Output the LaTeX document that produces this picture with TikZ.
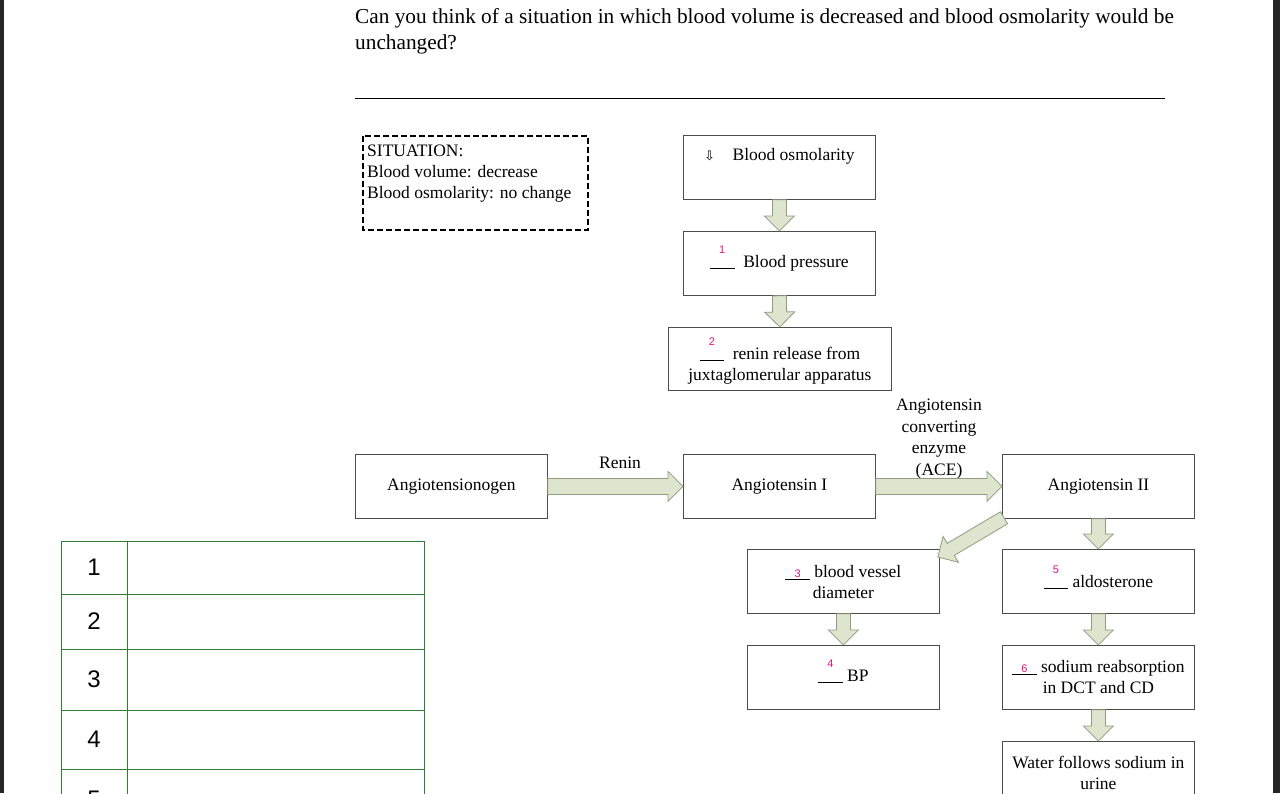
\documentclass[tikz,border=0pt]{standalone}
\usepackage{fontspec}
\setmainfont{Liberation Serif}
\newfontfamily\sansf{Liberation Sans}
\usetikzlibrary{calc}
\definecolor{pinkn}{HTML}{E0147A}
\definecolor{arrfill}{HTML}{DEE5CF}
\definecolor{arrdraw}{HTML}{8E9C80}
\definecolor{tabg}{HTML}{2E7D32}
\newcommand\numsup[1]{\rlap{\raisebox{0.8em}[0pt][0pt]{\makebox[1.4em]{\sansf\fontsize{11}{11}\selectfont\color{pinkn}#1}}}\rule[-1pt]{1.4em}{0.5pt}}
\newcommand\numon[1]{\rlap{\makebox[1.4em]{\sansf\fontsize{11}{11}\selectfont\color{pinkn}#1}}\rule[-2pt]{1.4em}{0.5pt}}
\newcommand\barrow[3]{% from, to, half shaft
  \draw[arrdraw,fill=arrfill,line width=0.8pt] let \p1=(#1), \p2=(#2), \n1={atan2(\y2-\y1,\x2-\x1)}, \n2={veclen(\x2-\x1,\y2-\y1)} in
   [shift={(\p1)}, rotate=\n1] (0pt,-#3pt) -- (\n2-15pt,-#3pt) -- (\n2-15pt,-15pt) -- (\n2,0pt) -- (\n2-15pt,15pt) -- (\n2-15pt,#3pt) -- (0pt,#3pt) -- cycle;}
\tikzset{box/.style={draw=black!70,line width=0.8pt,fill=white,minimum width=192pt,minimum height=64pt,inner sep=0pt},
 btext/.style={align=center,font=\fontsize{17.5}{21}\selectfont,inner sep=0pt},
 tcell/.style={draw=tabg,line width=0.8pt}}
\begin{document}
\begin{tikzpicture}[x=1pt,y=-1pt]
\useasboundingbox (0,0) rectangle (1280,793);
\fill[white] (0,0) rectangle (1280,793);
\fill[black!85] (1273,0) rectangle (1280,793);
% question
\node[anchor=north west,align=left,inner sep=0pt,font=\fontsize{21.3}{26}\selectfont] (q) at (355,8) {Can you think of a situation in which blood volume is decreased and blood osmolarity would be\\unchanged?};
\draw[line width=0.8pt] (355,98) -- (1165,98);
% situation
\draw[line width=2pt,dash pattern=on 6pt off 3pt] (363,136) rectangle (588,230);
\node[anchor=north west,align=left,inner sep=0pt,font=\fontsize{17.5}{21}\selectfont] (sit) at (367,145) {SITUATION:\\Blood volume: decrease\\Blood osmolarity: no change};
% boxes
\node[box,anchor=north west] (bo) at (683,135) {};
\node[box,anchor=north west] (bp) at (683,231) {};
\node[box,anchor=north west,minimum width=223pt,minimum height=63pt] (rn) at (668,327) {};
\node[box,anchor=north west] (ag) at (355,454) {};
\node[box,anchor=north west] (a1) at (683,454) {};
\node[box,anchor=north west] (a2) at (1002,454) {};
\node[box,anchor=north west] (bv) at (747,549) {};
\node[box,anchor=north west] (al) at (1002,549) {};
\node[box,anchor=north west] (b4) at (747,645) {};
\node[box,anchor=north west] (na) at (1002,645) {};
\node[box,anchor=north west,minimum height=70pt] (wa) at (1002,741) {};
% box texts
\node[btext] (tbo) at ($(bo.north)+(0,21)$) {{\fontspec{DejaVu Sans}\fontsize{13}{13}\selectfont ⇩}\quad Blood osmolarity};
\node[btext] (tbp) at ($(bp.center)+(0,0)$) {\numsup{1}\ \ Blood pressure};
\node[btext] (trn) at ($(rn.center)+(0,7)$) {\numsup{2}\ \ renin release from\\juxtaglomerular apparatus};
\node[btext] (tag) at (ag.center) {Angiotensionogen};
\node[btext] (ta1) at (a1.center) {Angiotensin I};
\node[btext] (ta2) at (a2.center) {Angiotensin II};
\node[btext] (tbv) at ($(bv.center)+(0,1)$) {\numon{3} blood vessel\\diameter};
\node[btext] (tal) at ($(al.center)+(0,1)$) {\numsup{5} aldosterone};
\node[btext] (tb4) at ($(b4.center)+(0,-1)$) {\numsup{4} BP};
\node[btext] (tna) at ($(na.center)+(0,0)$) {\numon{6} sodium reabsorption\\in DCT and CD};
\node[btext] (twa) at ($(wa.north)+(0,32)$) {Water follows sodium in\\urine};
% labels
\node[font=\fontsize{17.5}{21}\selectfont] (renin) at (620,463) {Renin};
\node[font=\fontsize{17.5}{21.5}\selectfont,align=center] (ace) at (939,439) {Angiotensin\\converting\\enzyme\\(ACE)};
% arrows
\barrow{bo.south}{bp.north}{7}
\barrow{bp.south}{rn.north}{7}
\barrow{ag.east}{a1.west}{8}
\barrow{a1.east}{a2.west}{8}
\barrow{a2.south}{al.north}{7}
\barrow{al.south}{na.north}{7}
\barrow{bv.south}{b4.north}{7}
\barrow{na.south}{wa.north}{7}
\coordinate (d1) at ($(a2.south west)+(2,-1)$);
\coordinate (d2) at ($(bv.north east)+(-2,8)$);
\barrow{d1}{d2}{7}
% table
\foreach \r/\a/\b in {1/541/594,2/594/649,3/649/710,4/710/769,5/769/830}{
 \draw[tcell] (61,\a) rectangle (127,\b);
 \draw[tcell] (127,\a) rectangle (424,\b);
 \node[font=\sansf\fontsize{24}{24}\selectfont] (t\r) at (94,{(\a+\b)/2}) {\r};
}
\fill[black!85] (0,0) rectangle (4,793);
\end{tikzpicture}
\end{document}
